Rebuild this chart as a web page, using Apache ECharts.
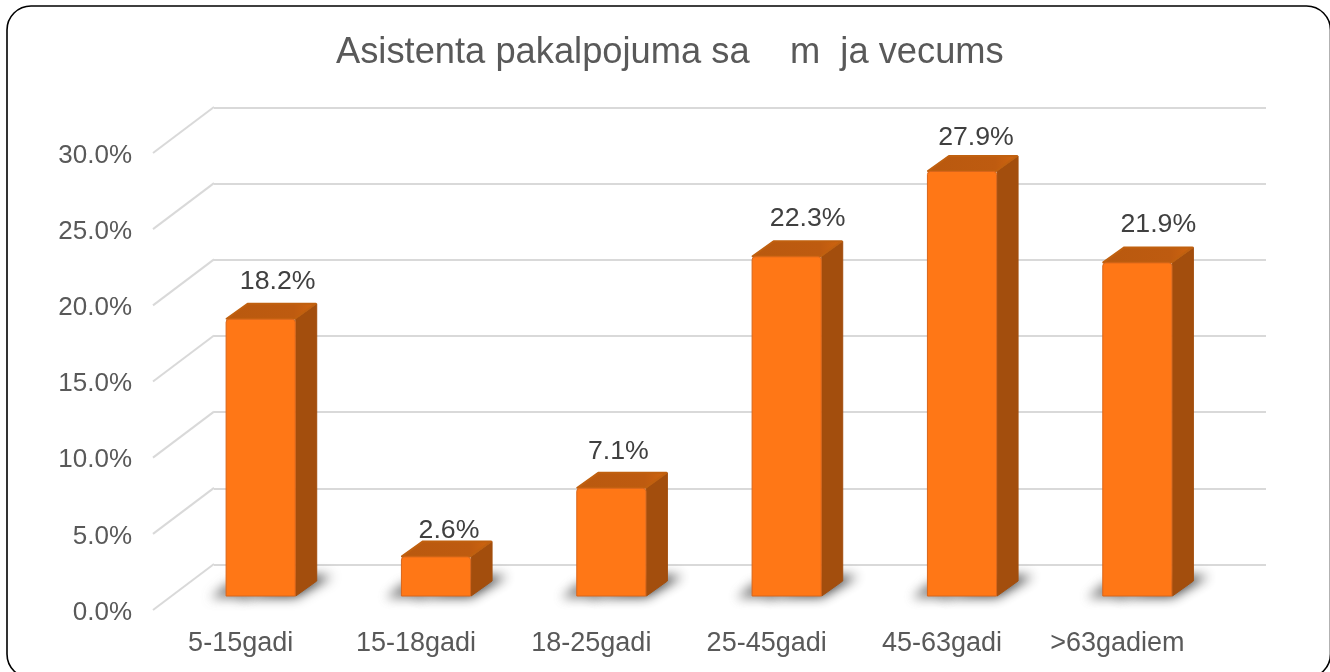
<!DOCTYPE html>
<html><head><meta charset="utf-8">
<style>html,body{margin:0;padding:0;background:#fff}#c{width:1330px;height:672px}</style>
<script src="https://cdn.jsdelivr.net/npm/echarts@6/dist/echarts.min.js"></script>
</head><body><div id="c"></div>
<script>
const categories = ['5-15gadi','15-18gadi','18-25gadi','25-45gadi','45-63gadi','>63gadiem'];
const values = [18.2, 2.6, 7.1, 22.3, 27.9, 21.9];
const tickValues = [0, 5, 10, 15, 20, 25, 30];
const titleText = 'Asistenta pakalpojuma sa    m  ja vecums';

// drawing style and the 3-D projection offsets (not data)
const FONT = '"Liberation Sans", Arial, sans-serif';
const WALL = {dx: 61, dy: -46};
const BAR = {dx: 20, dy: -14, depthX: 21, depthY: -15, widthFrac: 0.4};
const labelNudge = [[17,-22],[13,-11],[7,-21],[21,-23],[14,-18],[21,-23]];
const FAR = 3000;

const chart = echarts.init(document.getElementById('c'));

function renderWallLine(params, api) {
  const p = api.coord([0, api.value(1)]);
  const x0 = p[0] - api.size([1, 0])[0] / 2;
  return {type: 'line', silent: true,
    shape: {x1: x0, y1: p[1], x2: x0 + WALL.dx, y2: p[1] + WALL.dy},
    style: {stroke: '#D9D9D9', lineWidth: 2}};
}

function renderBar(params, api) {
  const i = api.value(0), v = api.value(1);
  const top = api.coord([i, v]), base = api.coord([i, 0]);
  const w = api.size([1, 0])[0] * BAR.widthFrac;
  const l = top[0] + BAR.dx - w / 2, r = l + w;
  const t = top[1] + BAR.dy, b = base[1] + BAR.dy;
  const dx = BAR.depthX, dy = BAR.depthY;
  const nudge = labelNudge[params.dataIndex];
  const soft = (pts, blur, color) => ({type: 'polygon',
    shape: {points: pts.map(p => [p[0] - FAR, p[1]])},
    style: {fill: '#000', shadowBlur: blur, shadowColor: color, shadowOffsetX: FAR}});
  return {type: 'group', children: [
    soft([[l - 15, b + 2], [l + 20, b + 2], [l + 36, b + dy + 2], [l + 2, b + dy + 2]], 11, 'rgba(90,90,90,0.75)'),
    soft([[l + 10, b + 1], [r, b + 1], [r + dx + 15, b + dy - 5], [r + 10, b + dy - 5]], 12, 'rgba(50,50,50,0.95)'),
    {type: 'polygon', shape: {points: [[r, t], [r + dx, t + dy], [r + dx, b + dy], [r, b]]},
      style: {fill: '#A34E0D', stroke: '#A34E0D', lineWidth: 1, lineJoin: 'round'}},
    {type: 'polygon', shape: {points: [[l + 1, t], [l + dx + 1, t + dy], [r + dx - 1, t + dy], [r - 1, t]]},
      style: {fill: new echarts.graphic.LinearGradient(0, 0, 1, 0, [
        {offset: 0, color: '#B9590F'}, {offset: 0.75, color: '#BE5B10'}, {offset: 1, color: '#D0650F'}]),
        stroke: '#C0600F', lineWidth: 2, lineJoin: 'round'}},
    {type: 'rect', shape: {x: l + 0.5, y: t + 0.5, width: w - 1, height: b - t - 0.5, r: [3, 3, 0, 0]},
      style: {fill: '#FF7716', stroke: '#D9661A', lineWidth: 1}},
    {type: 'text', style: {x: r - w / 2 + nudge[0], y: t + dy + nudge[1],
      text: v.toFixed(1) + '%', fill: '#404040', font: '26.7px ' + FONT,
      textAlign: 'center', textVerticalAlign: 'middle'}}
  ]};
}

chart.setOption({
  animation: false,
  backgroundColor: '#fff',
  title: {text: titleText, left: 331, top: 30,
    textStyle: {fontFamily: FONT, fontSize: 36.3, fontWeight: 'normal', color: '#595959'}},
  grid: [
    {left: 214, right: 64, top: 107.5, height: 457, containLabel: false},
    {left: 153, right: 125, top: 153, height: 457, containLabel: false}
  ],
  xAxis: [
    {gridIndex: 0, type: 'category', data: categories, show: false},
    {gridIndex: 1, type: 'category', data: categories,
      axisLine: {show: false}, axisTick: {show: false},
      axisLabel: {margin: 20, color: '#595959', fontFamily: FONT, fontSize: 27, interval: 0}}
  ],
  yAxis: [
    {gridIndex: 0, type: 'value', min: 0, max: 30, interval: 5,
      axisLine: {show: false}, axisTick: {show: false}, axisLabel: {show: false},
      splitLine: {lineStyle: {color: '#D9D9D9', width: 2}}},
    {gridIndex: 1, type: 'value', min: 0, max: 30, interval: 5,
      axisLine: {show: false}, axisTick: {show: false}, splitLine: {show: false},
      axisLabel: {margin: 21, color: '#595959', fontFamily: FONT, fontSize: 26,
        verticalAlign: 'top', lineHeight: 5,
        formatter: v => v.toFixed(1) + '%'}}
  ],
  series: [
    {type: 'custom', xAxisIndex: 1, yAxisIndex: 1, clip: false, silent: true, z: 1,
      renderItem: renderWallLine, encode: {x: 0, y: 1},
      data: tickValues.map(v => [0, v])},
    {type: 'custom', xAxisIndex: 1, yAxisIndex: 1, clip: false, silent: true, z: 3,
      renderItem: renderBar, encode: {x: 0, y: 1},
      data: values.map((v, i) => [i, v])}
  ],
  graphic: [{type: 'rect', z: 100, silent: true,
    shape: {x: 7, y: 6, width: 1323.5, height: 672, r: 24},
    style: {fill: 'none', stroke: '#000', lineWidth: 1.6}}]
});
</script></body></html>
